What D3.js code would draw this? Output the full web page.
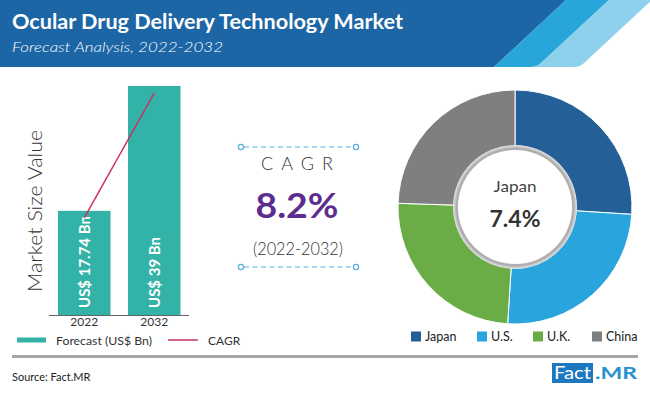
<!DOCTYPE html>
<html><head><meta charset="utf-8">
<script src="https://cdn.jsdelivr.net/npm/d3@7"></script>
<style>
html,body{margin:0;padding:0;background:#fff;}
svg{display:block;}
text{font-family:"Lato","Open Sans",sans-serif;}
</style></head>
<body>
<script>
const years = ["2022", "2032"];
const marketValues = [17.74, 39];
const barLabels = ["US$ 17.74 Bn", "US$ 39 Bn"];
const regions = ["Japan", "U.S.", "U.K.", "China"];
const regionShares = [26, 25, 24.5, 24.5];
const regionColors = ["#245f97", "#29a4dd", "#6aad46", "#7f7f7f"];
const cagrValue = "8.2%";
const cagrPeriod = "(2022-2032)";
const highlightRegion = "Japan";
const highlightValue = "7.4%";

const W = 650, H = 393;
const svg = d3.select("body").append("svg").attr("width", W).attr("height", H);

// Header
svg.append("rect").attr("x",0).attr("y",0).attr("width",W).attr("height",H).attr("fill","#fff");
svg.append("path").attr("d","M0,0 L566,0 L494,67 L0,67 Z").attr("fill","#1d66a5");
svg.append("path").attr("d","M566,0 L609,0 L541,63 Q537,67 531,67 L494,67 Z").attr("fill","#28a6da");
svg.append("path").attr("d","M609,0 L652,0 L584,63 Q580,67 574,67 L531,67 Q537,67 541,63 Z").attr("fill","#8dd1ec");
svg.append("text").attr("x",12).attr("y",29).attr("fill","#fff")
  .attr("font-size",20).attr("font-weight","bold").attr("textLength",391).attr("lengthAdjust","spacingAndGlyphs")
  .text("Ocular Drug Delivery Technology Market");
svg.append("text").attr("x",12).attr("y",52).attr("fill","#fff")
  .attr("font-size",14.5).attr("font-style","italic").attr("font-weight",300).attr("textLength",211).attr("lengthAdjust","spacingAndGlyphs")
  .text("Forecast Analysis, 2022-2032");

// Bar chart
const x = d3.scaleBand().domain(years).range([40.5,198]).paddingInner(0.25).paddingOuter(0.25);
const y = d3.scaleLinear().domain([0, 39]).range([315, 86]);
const teal = "#33b3a7";
svg.selectAll(".bar").data(marketValues).enter().append("rect")
  .attr("x",(d,i)=>x(years[i])).attr("y",d=>y(d))
  .attr("width",x.bandwidth()).attr("height",d=>y(0)-y(d)).attr("fill",teal);
svg.selectAll(".blab").data(barLabels).enter().append("text")
  .attr("transform",(d,i)=>`translate(${x(years[i])+x.bandwidth()/2+5.5},308) rotate(-90)`)
  .attr("fill","#fff").attr("font-size",15).attr("font-weight","bold")
  .attr("font-family","'Open Sans',sans-serif").text(d=>d);
const xAxis = svg.append("g").attr("transform","translate(0,315.5)")
  .call(d3.axisBottom(x).tickSize(0).tickPadding(2));
xAxis.select(".domain").remove();
xAxis.append("line").attr("x1",49).attr("x2",189).attr("y1",0).attr("y2",0).attr("stroke","#666").attr("stroke-width",1.2);
xAxis.selectAll(".tick text").attr("font-size",12).attr("fill","#333").attr("font-family","'Open Sans',sans-serif");
// CAGR line
const line = d3.line().x((d,i)=>x(years[i])+x.bandwidth()/2).y(d=>y(d)+7);
svg.append("path").datum(marketValues).attr("d",line).attr("fill","none").attr("stroke","#c9305f").attr("stroke-width",1.5);
// axis title
svg.append("text").attr("transform","translate(42,211) rotate(-90)").attr("text-anchor","middle")
  .attr("font-size",19).attr("font-weight",300).attr("fill","#333").attr("textLength",162).attr("lengthAdjust","spacingAndGlyphs")
  .text("Market Size Value");
// legend
svg.append("rect").attr("x",17).attr("y",337.5).attr("width",29).attr("height",5).attr("fill",teal);
svg.append("text").attr("x",56).attr("y",344.5).attr("font-size",12).attr("fill","#333").attr("font-family","'Open Sans',sans-serif")
  .attr("textLength",96).attr("lengthAdjust","spacingAndGlyphs").text("Forecast (US$ Bn)");
svg.append("line").attr("x1",168).attr("x2",198).attr("y1",340).attr("y2",340).attr("stroke","#c9305f").attr("stroke-width",1.5);
svg.append("text").attr("x",208).attr("y",344.5).attr("font-size",12).attr("fill","#333").attr("font-family","'Open Sans',sans-serif").text("CAGR");

// CAGR center
[147,267].forEach(yy=>{
  svg.append("line").attr("x1",244).attr("x2",353).attr("y1",yy).attr("y2",yy)
    .attr("stroke","#5aaedc").attr("stroke-width",1.2).attr("stroke-dasharray","5,3.5");
  [241,356].forEach(xx=>svg.append("circle").attr("cx",xx).attr("cy",yy).attr("r",2.6)
    .attr("fill","#fff").attr("stroke","#5aaedc").attr("stroke-width",1.2));
});
svg.append("text").attr("x",297).attr("y",170).attr("text-anchor","middle").attr("font-size",18)
  .attr("font-weight",300).attr("fill","#333").attr("letter-spacing",8).attr("dx",4).text("CAGR");
svg.append("text").attr("x",297).attr("y",218).attr("text-anchor","middle").attr("font-size",34)
  .attr("font-weight","bold").attr("fill","#5c2d8e").attr("font-family","'Liberation Sans',Arial,sans-serif")
  .attr("textLength",83).attr("lengthAdjust","spacingAndGlyphs").text(cagrValue);
svg.append("text").attr("x",298).attr("y",255).attr("text-anchor","middle").attr("font-size",17)
  .attr("font-weight",300).attr("fill","#333").attr("textLength",90).attr("lengthAdjust","spacingAndGlyphs").text(cagrPeriod);

// Donut
const cx = 515, cy = 207;
const pie = d3.pie().sort(null).value(d=>d)(regionShares);
const arc = d3.arc().innerRadius(61).outerRadius(117);
const dg = svg.append("g").attr("transform",`translate(${cx},${cy})`);
dg.selectAll("path").data(pie).enter().append("path").attr("d",arc)
  .attr("fill",(d,i)=>regionColors[i]).attr("stroke","#fff").attr("stroke-width",1);
const defs = svg.append("defs");
const rg = defs.append("radialGradient").attr("id","ring");
rg.append("stop").attr("offset","88%").attr("stop-color","#d8d8d8");
rg.append("stop").attr("offset","94%").attr("stop-color","#a9a9a9");
rg.append("stop").attr("offset","100%").attr("stop-color","#e6e6e6");
dg.append("circle").attr("r",62).attr("fill","url(#ring)");
dg.append("circle").attr("r",57).attr("fill","#fff");
dg.append("text").attr("y",-15).attr("text-anchor","middle").attr("font-size",15).attr("fill","#444")
  .attr("font-family","'Lato',sans-serif").attr("textLength",43).attr("lengthAdjust","spacingAndGlyphs").text(highlightRegion);
dg.append("text").attr("y",20).attr("text-anchor","middle").attr("font-size",23).attr("font-weight","bold")
  .attr("fill","#333").attr("font-family","'Open Sans',sans-serif").text(highlightValue);
// donut legend
const legX = [411, 477, 533, 592];
regions.forEach((r,i)=>{
  svg.append("rect").attr("x",legX[i]).attr("y",331.5).attr("width",10).attr("height",10).attr("fill",regionColors[i]);
  svg.append("text").attr("x",legX[i]+14).attr("y",341).attr("font-size",12.5).attr("fill","#222")
    .attr("font-family","'Open Sans',sans-serif").text(r);
});

// Footer
svg.append("rect").attr("x",12).attr("y",355).attr("width",626).attr("height",3).attr("fill","#a6a6a6");
svg.append("text").attr("x",12).attr("y",381).attr("font-size",11).attr("fill","#222")
  .attr("font-family","'Open Sans',sans-serif").text("Source: Fact.MR");
svg.append("rect").attr("x",552).attr("y",363).attr("width",41).attr("height",20).attr("fill","#1e78bf");
svg.append("text").attr("x",572.5).attr("y",379).attr("text-anchor","middle").attr("font-size",17).attr("fill","#fff")
  .attr("font-family","'Open Sans',sans-serif").attr("textLength",37).attr("lengthAdjust","spacingAndGlyphs").text("Fact");
svg.append("text").attr("x",595).attr("y",379).attr("font-size",17).attr("font-weight","bold").attr("fill","#2a8fd0")
  .attr("font-family","'Open Sans',sans-serif").attr("textLength",42).attr("lengthAdjust","spacingAndGlyphs").text(".MR");
</script>
</body></html>
